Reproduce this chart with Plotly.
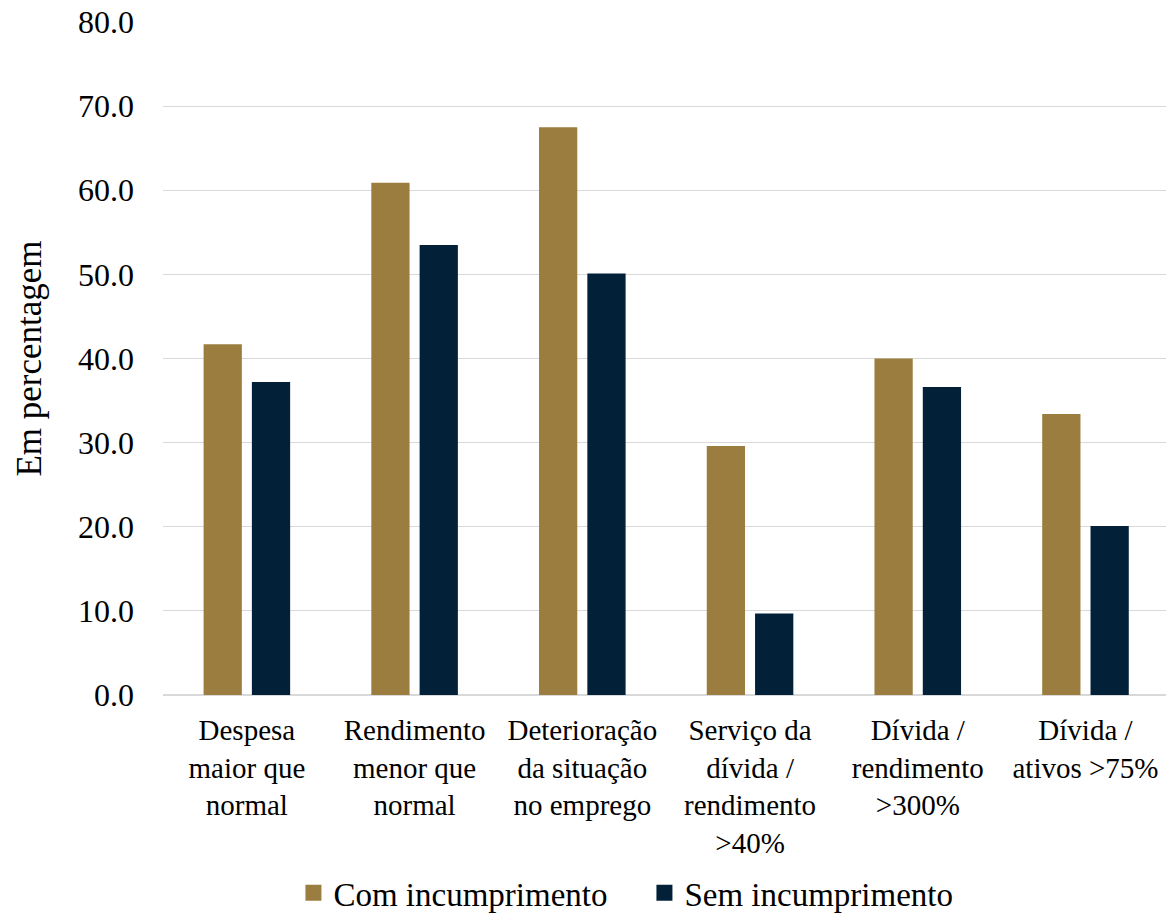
import plotly.graph_objects as go

# Categories (x-axis labels, line breaks as displayed)
categories = [
    "Despesa<br>maior que<br>normal",
    "Rendimento<br>menor que<br>normal",
    "Deterioração<br>da situação<br>no emprego",
    "Serviço da<br>dívida /<br>rendimento<br>>40%",
    "Dívida /<br>rendimento<br>>300%",
    "Dívida /<br>ativos >75%",
]

# Share of households, in percent
com_incumprimento = [41.7, 60.9, 67.5, 29.6, 40.0, 33.4]
sem_incumprimento = [37.2, 53.5, 50.1, 9.7, 36.6, 20.1]

series_names = ["Com incumprimento", "Sem incumprimento"]
y_ticks = [0, 10, 20, 30, 40, 50, 60, 70, 80]

GOLD = "#9B7D40"
NAVY = "#022138"
FONT = "Liberation Serif"

fig = go.Figure()
for name, values, color in zip(series_names,
                               [com_incumprimento, sem_incumprimento],
                               [GOLD, NAVY]):
    fig.add_trace(go.Bar(
        name=name, x=categories, y=values, legendgroup=name, showlegend=False,
        marker=dict(color=color, line=dict(width=0)),
    ))
    # legend entry with a larger square swatch
    fig.add_trace(go.Scatter(
        name=name, x=[None], y=[None], mode="markers", legendgroup=name,
        marker=dict(symbol="square", size=17, color=color),
    ))

fig.update_layout(
    width=1166, height=913,
    margin=dict(l=163, r=0, t=22, b=218, autoexpand=False),
    paper_bgcolor="white", plot_bgcolor="white",
    font=dict(family=FONT, color="#000000", size=29),
    barmode="group", bargap=0.424, bargroupgap=0.208,
    showlegend=True,
    legend=dict(
        orientation="h", x=0.48, xanchor="center", y=-0.294, yanchor="middle",
        font=dict(family=FONT, size=33), entrywidth=306, entrywidthmode="pixels",
        itemsizing="trace", traceorder="normal", bgcolor="rgba(0,0,0,0)",
        tracegroupgap=0,
    ),
)

fig.update_xaxes(
    range=[-0.5, 5.48], showgrid=False, showline=False, zeroline=False,
    ticks="", tickangle=0, tickfont=dict(family=FONT, size=29),
    automargin=False, ticklabelstandoff=15,
)
fig.update_yaxes(
    range=[0, 80], tickvals=y_ticks, tickformat=".1f",
    showgrid=True, gridcolor="#d9d9d9", gridwidth=1.3,
    zeroline=True, zerolinecolor="#d9d9d9", zerolinewidth=1.5,
    showline=False, ticks="", ticklabelstandoff=28, automargin=False,
    tickfont=dict(family=FONT, size=32),
    title=dict(text="Em percentagem", font=dict(family=FONT, size=35), standoff=25),
)

fig.write_html("out.html")
